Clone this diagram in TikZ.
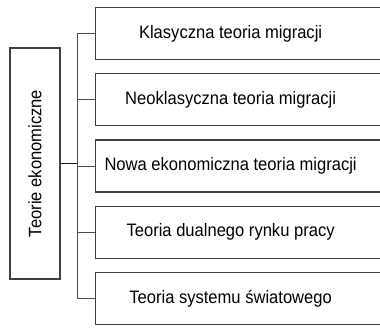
\documentclass[tikz,border=0pt]{standalone}
\usepackage{fontspec}
\setsansfont[FakeStretch=0.92]{Liberation Sans}
\usepackage{tikz}
\usetikzlibrary{positioning}

\newcommand{\branchtext}[1]{\makebox[300pt][l]{\makebox[270pt]{#1}}}

\begin{document}
\begin{tikzpicture}[
   x=1pt,y=-1pt,
   font=\sffamily\fontsize{18}{20}\selectfont,
   node distance=13pt,
   root/.style={draw=black!75,line width=1.2pt,rotate=90,minimum width=231pt,minimum height=50pt,inner sep=0pt},
   branch/.style={draw=black!75,line width=1.2pt,minimum height=52pt,inner xsep=0pt,inner ysep=0pt},
   link/.style={draw=black!70,line width=1pt},
   rootlink/.style={draw=black!90,line width=1.4pt}]
\useasboundingbox (0,0) rectangle (380,327);
\clip (0,0) rectangle (380,327);
\node[root] (Teorie) at (35,163.5) {Teorie ekonomiczne};
\node[branch,anchor=north west] (Klasyczna) at (95,7) {\branchtext{Klasyczna teoria migracji}};
\node[branch,below=of Klasyczna] (Neoklasyczna) {\branchtext{Neoklasyczna teoria migracji}};
\node[branch,below=of Neoklasyczna] (Nowa) {\branchtext{Nowa ekonomiczna teoria migracji}};
\node[branch,below=of Nowa] (Dualna) {\branchtext{Teoria dualnego rynku pracy}};
\node[branch,below=of Dualna] (Swiatowy) {\branchtext{Teoria systemu światowego}};
\draw[link] (Klasyczna.west) -- ++(-18,0) coordinate (trunk) |- (Swiatowy.west);
\draw[link] (Neoklasyczna.west) -- (Neoklasyczna.west -| trunk);
\draw[link] (Nowa.west) -- (Nowa.west -| trunk);
\draw[link] (Dualna.west) -- (Dualna.west -| trunk);
\draw[rootlink] (Teorie.south) -- (Teorie.south -| trunk);
\end{tikzpicture}
\end{document}
